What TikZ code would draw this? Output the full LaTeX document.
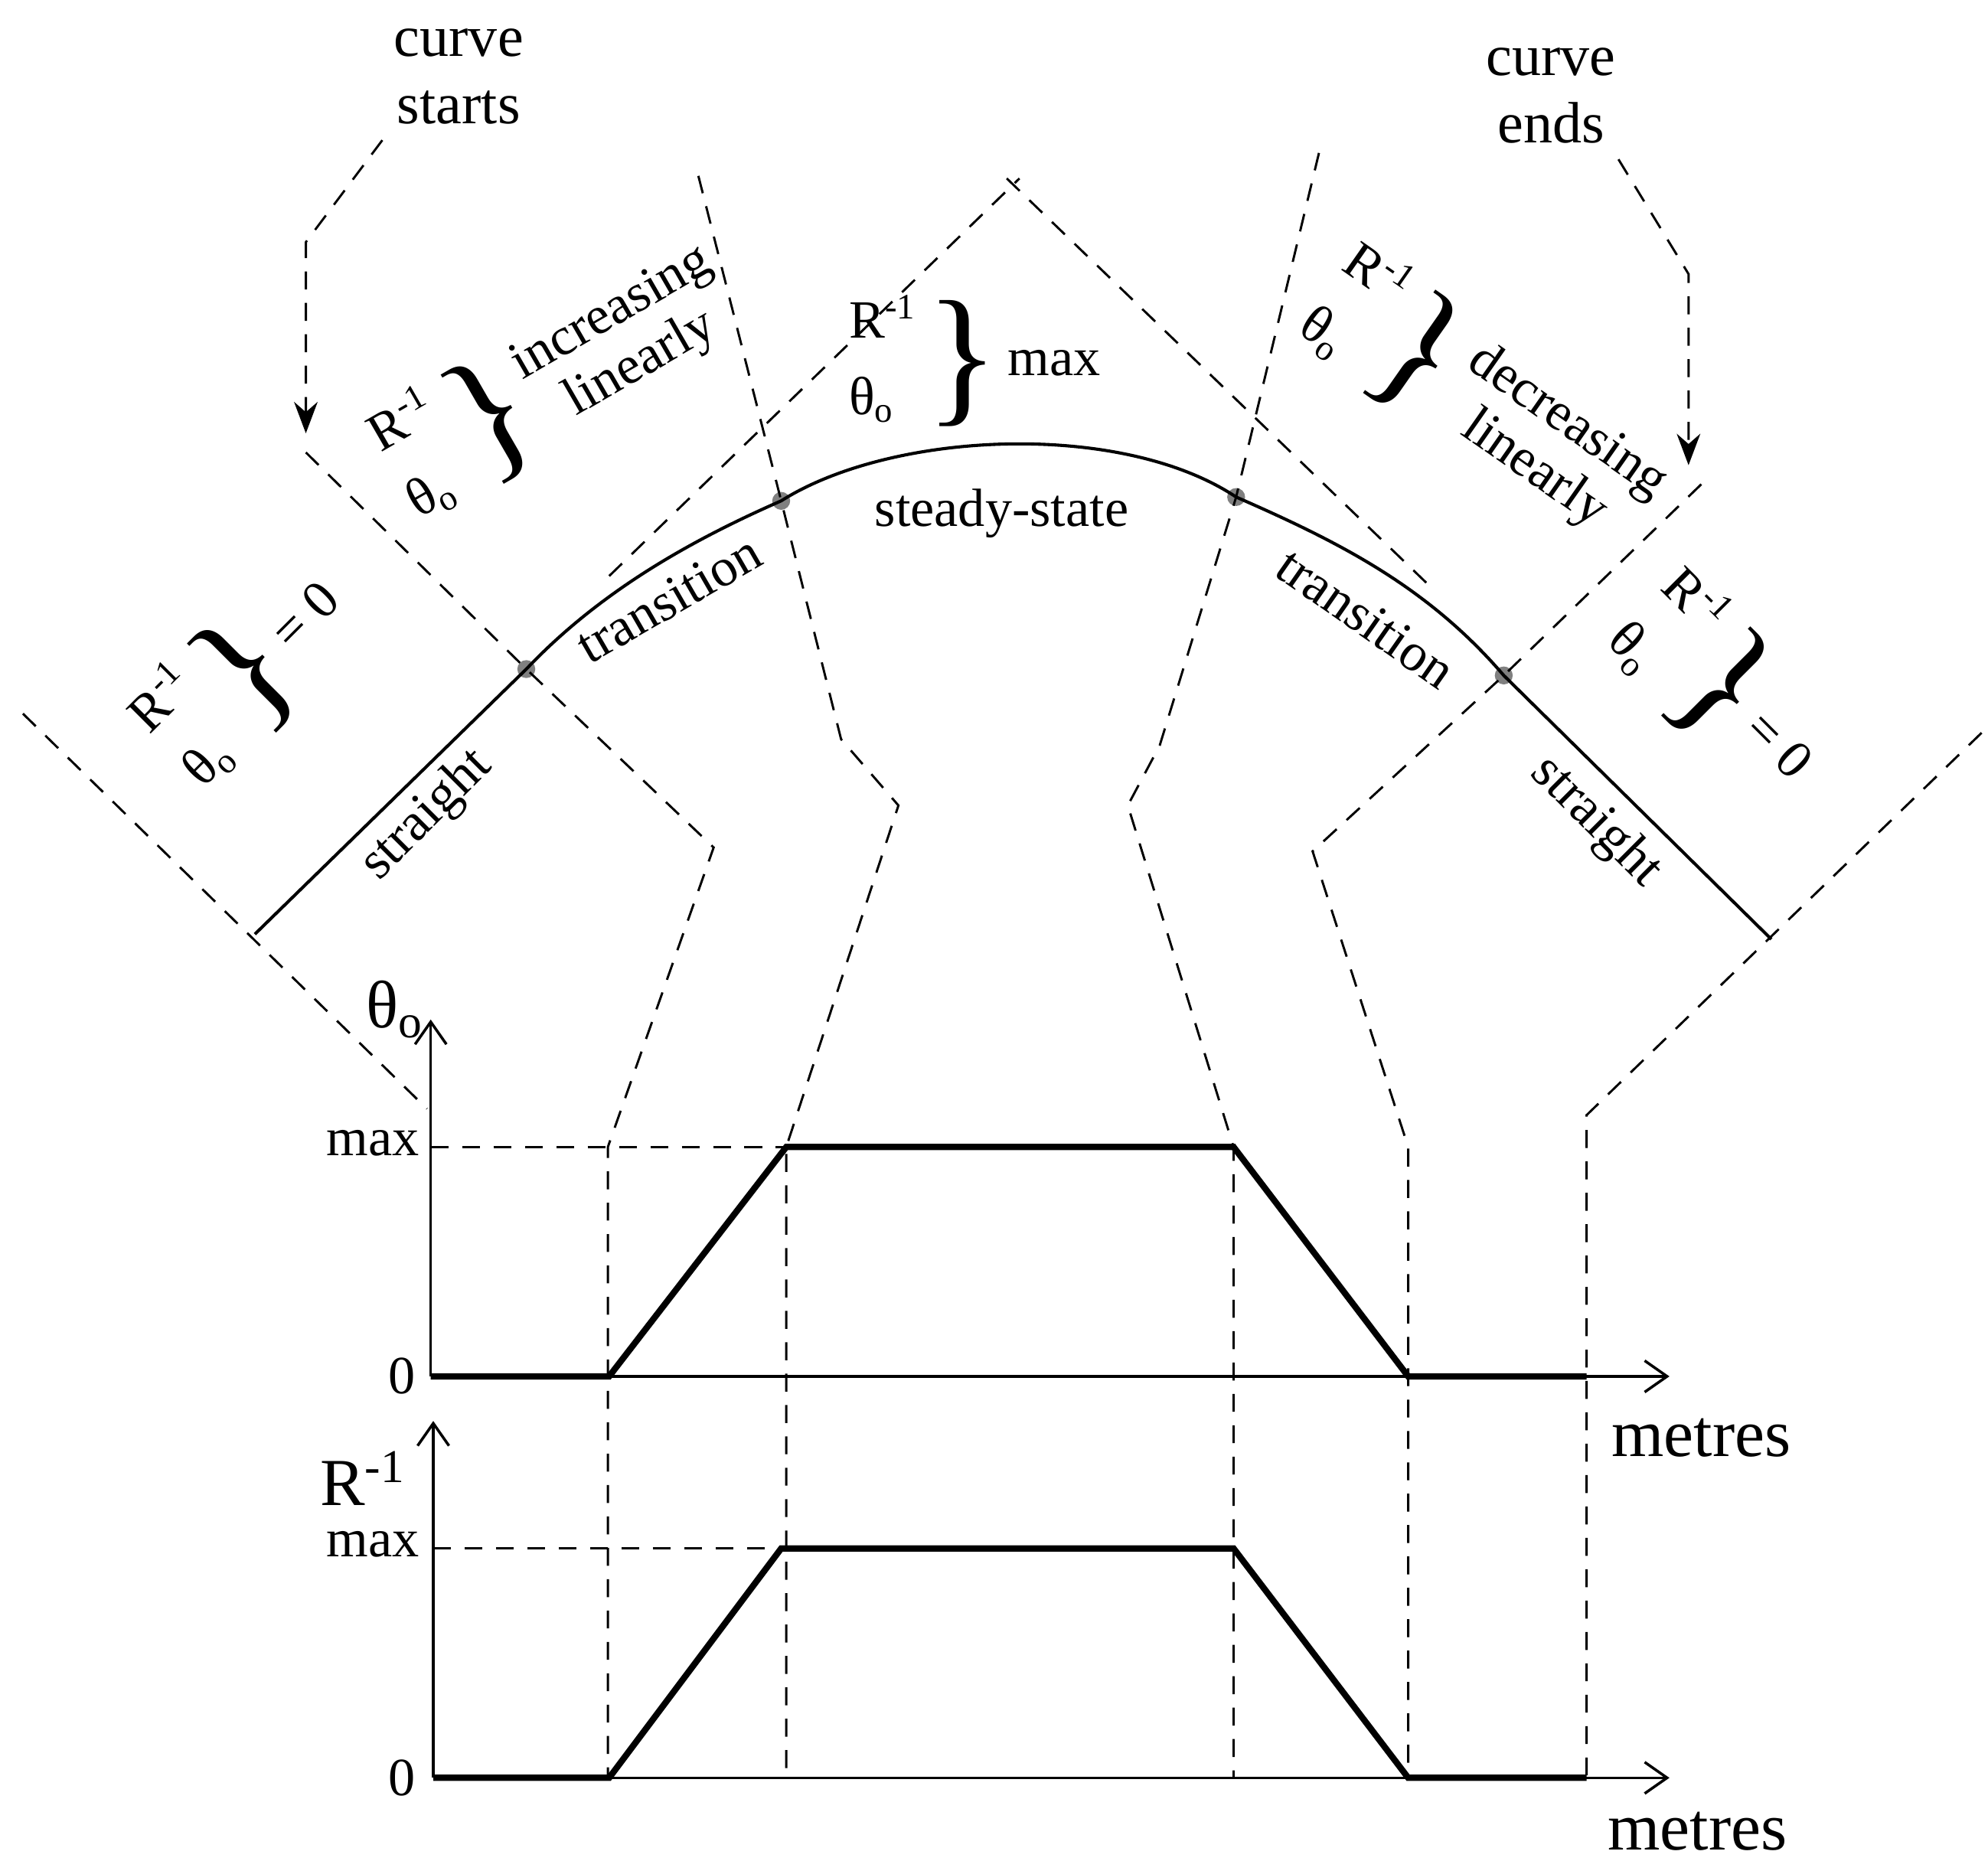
\documentclass[tikz,border=0pt]{standalone}
\usepackage{fontspec}
\setmainfont{Liberation Serif}
\usetikzlibrary{arrows.meta}
\newcommand{\Rinv}{R\textsuperscript{-1}}
\newcommand{\tho}{θ\textsubscript{o}}
\newcommand{\grp}[1]{$\vcenter{\hbox{\begin{tabular}{@{}l@{}}\Rinv\\[4pt]\tho\end{tabular}}}\,\vcenter{\hbox{\fontsize{34}{34}\selectfont\}}}\,\vcenter{\hbox{#1}}$}
\begin{document}
\begin{tikzpicture}[x=0.01cm,y=-0.01cm,
  dsh/.style={dashed,dash pattern=on 4pt off 3pt,line width=0.5pt},
  prof/.style={line width=1.4pt},
  ax/.style={line width=0.6pt,-{Straight Barb[length=5pt,width=7pt]}},
  lbl/.style={font=\fontsize{12}{13}\selectfont,inner sep=1pt},
  big/.style={font=\fontsize{15}{17}\selectfont,inner sep=1pt},
  dot/.style={circle,fill=gray,inner sep=0pt,minimum size=4pt}]
\useasboundingbox (0,0) rectangle (1560,1460);
% track
\coordinate (s0) at (200,733);
\node[dot] (d1) at (413,525) {};
\node[dot] (d2) at (613,393) {};
\node[dot] (d3) at (970,390) {};
\node[dot] (d4) at (1180,530) {};
\coordinate (s5) at (1390,737);
\draw[line width=0.7pt] (s0) -- (d1.center) .. controls (470,465) and (540,425) .. (d2.center)
  .. controls (700,338) and (880,330) .. (d3.center)
  .. controls (1050,425) and (1120,460) .. (d4.center) -- (s5);
% dashed guides
\draw[dsh] (18,560) -- (335,870);
\draw[dsh,-{Stealth[length=7pt]}] (300,110) -- (240,190) -- (240,340);
\draw[dsh] (240,355) -- (d1.center) -- (560,665) -- (477,900) -- (477,1395);
\draw[dsh] (548,138) -- (d2.center) -- (660,580) -- (705,632) -- (617,900) -- (617,1395);
\draw[dsh] (478,452) -- (800,140);
\draw[dsh] (790,140) -- (1120,458);
\draw[dsh] (1035,120) -- (d3.center) -- (910,585) -- (885,632) -- (968,900) -- (968,1395);
\draw[dsh,-{Stealth[length=7pt]}] (1270,125) -- (1325,215) -- (1325,365);
\draw[dsh] (1335,380) -- (d4.center) -- (1030,668) -- (1105,900) -- (1105,1395);
\draw[dsh] (1555,575) -- (1245,875) -- (1245,1395);
\draw[dsh] (338,900) -- (617,900);
\draw[dsh] (340,1215) -- (617,1215);
% graphs
\draw[ax] (338,1080) -- (338,800);
\draw[ax] (338,1080) -- (1310,1080);
\draw[prof] (338,1080) -- (478,1080) -- (617,900) -- (968,900) -- (1105,1080) -- (1245,1080);
\draw[ax] (340,1395) -- (340,1115);
\draw[ax] (340,1395) -- (1310,1395);
\draw[prof] (340,1395) -- (478,1395) -- (613,1215) -- (968,1215) -- (1105,1395) -- (1245,1395);
\node[big] (gth) at (310,792) {\tho};
\node[lbl,anchor=east] (gm1) at (333,897) {max};
\node[lbl,anchor=east] (g01) at (330,1080) {0};
\node[big] (gm1x) at (1335,1128) {metres};
\node[big] (gR) at (285,1160) {\Rinv};
\node[lbl,anchor=east] (gm2) at (333,1212) {max};
\node[lbl,anchor=east] (g02) at (330,1395) {0};
\node[big] (gm2x) at (1332,1437) {metres};
% texts
\node[lbl,align=center,font=\fontsize{13}{15}\selectfont] (cs) at (360,60) {curve\\starts};
\node[lbl,align=center,font=\fontsize{13}{15}\selectfont] (ce) at (1217,75) {curve\\ends};
\node[lbl,rotate=45] (t1) at (335,640) {straight};
\node[lbl,rotate=30] (t2) at (525,470) {transition};
\node[lbl] (t3) at (786,403) {steady-state};
\node[lbl,rotate=-35] (t4) at (1072,485) {transition};
\node[lbl,rotate=-45] (t5) at (1252,645) {straight};
\node[lbl,rotate=45] (b1) at (195,527) {\grp{= 0}};
\node[lbl,rotate=30] (b2) at (438,298) {\grp{\begin{tabular}{@{}c@{}}increasing\\linearly\end{tabular}}};
\node[lbl] (b3) at (765,285) {\grp{max}};
\node[lbl,rotate=-35] (b4) at (1165,315) {\grp{\begin{tabular}{@{}c@{}}decreasing\\linearly\end{tabular}}};
\node[lbl,rotate=-45] (b5) at (1352,540) {\grp{= 0}};
\end{tikzpicture}
\end{document}
